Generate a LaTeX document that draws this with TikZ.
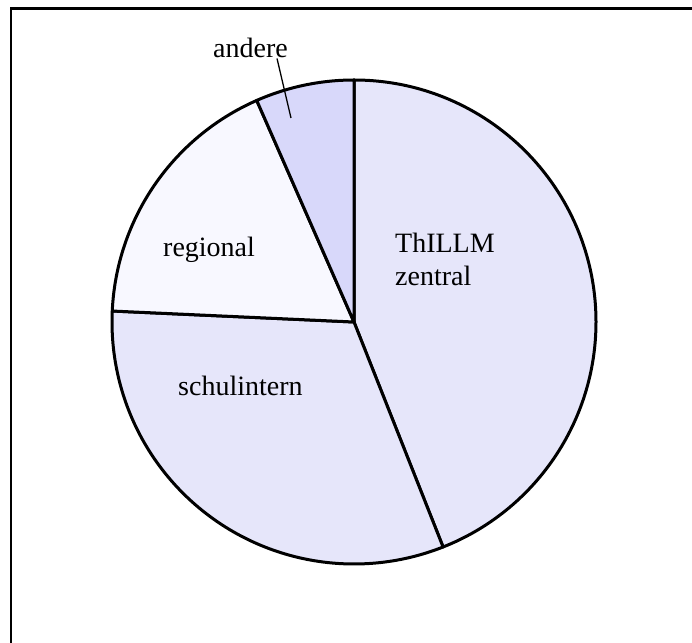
\documentclass[tikz,border=0pt]{standalone}
\usepackage{fontspec}
\setmainfont{Liberation Serif}
\usetikzlibrary{positioning}
\definecolor{zentrallav}{HTML}{E6E6FA}
\definecolor{schullav}{HTML}{E6E6FA}
\definecolor{regionalwhite}{HTML}{F8F8FF}
\definecolor{andereblue}{HTML}{D8D8FA}
\definecolor{ink}{HTML}{000000}

\begin{document}
\begin{tikzpicture}[
  x=1pt,y=1pt,
  font=\fontsize{28}{32}\selectfont,
  slice/.style={draw=ink,line width=3pt,line join=round},
  pielabel/.style={inner sep=0pt,text=ink},
  frame/.style={draw=ink,line width=2.5pt},
  pointer/.style={draw=ink,line width=1.3pt}
]
  \useasboundingbox (-353,-321) rectangle (339,321);
  \draw[frame] (-341.8,-325) -- (-341.8,312.5) -- (345,312.5);

  \coordinate (centre) at (1,-1);
  \filldraw[slice,fill=zentrallav] (centre) -- ++(90:242) arc[start angle=90,end angle=-68.4,radius=242] -- cycle;
  \filldraw[slice,fill=schullav] (centre) -- ++(-68.4:242) arc[start angle=-68.4,end angle=-182.6,radius=242] -- cycle;
  \filldraw[slice,fill=regionalwhite] (centre) -- ++(177.4:242) arc[start angle=177.4,end angle=113.7,radius=242] -- cycle;
  \filldraw[slice,fill=andereblue] (centre) -- ++(113.7:242) arc[start angle=113.7,end angle=90,radius=242] -- cycle;

  \node[pielabel,anchor=base west,align=left] (zentral) at (42,36) {ThILLM\\zentral};
  \node[pielabel,anchor=base west] (schulintern) at (-175,-74) {schulintern};
  \node[pielabel,anchor=base west] (regional) at (-190,64) {regional};
  \node[pielabel,anchor=base] (andere) at (-102.5,263) {andere};
  \coordinate (anderetip) at (-62,203);
  \draw[pointer] ([xshift=-11pt]andere.south east) -- (anderetip);
\end{tikzpicture}
\end{document}
